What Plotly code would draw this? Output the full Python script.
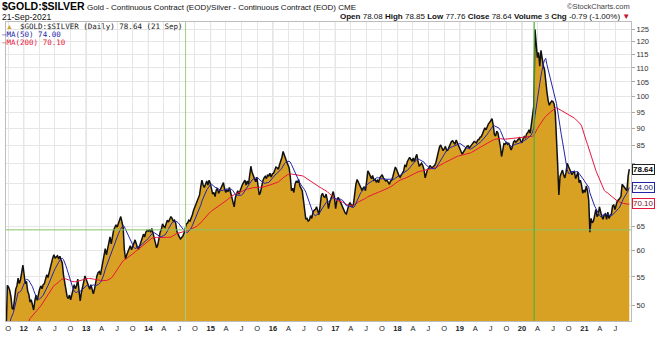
import numpy as np
import pandas as pd
import plotly.graph_objects as go

# ---------------------------------------------------------------------------
# Gold / silver ratio, weekly (Tuesday) closes, one list per calendar year.
# Dec-2010 .. Sep-2011 values only feed the moving averages.
# ---------------------------------------------------------------------------
r2010 = [47.0, 46.2, 47.5, 46.8]
r2011 = [48.0, 48.5, 48.9, 47.6,  45.8, 44.6, 43.0, 42.0,  41.3, 40.2, 40.6, 38.9, 38.2,
         37.6, 36.8, 33.8, 32.0,  37.0, 42.5, 42.0, 40.8, 41.5,  42.0, 42.8, 43.5, 44.0,
         42.0, 40.5, 40.2, 40.3,  41.2, 43.0, 45.5, 44.6, 44.0,  44.0, 44.6, 46.0, 53.5,
         53.2, 52.6, 51.5, 49.6,  49.4, 51.8, 52.8, 53.4, 54.8,  53.8, 54.5, 55.8, 57.2]
r2012 = [55.5, 53.8, 54.2, 52.5, 51.9,  50.6, 51.0, 50.2, 49.3,  50.8, 51.8, 50.9, 52.0,
         52.8, 53.4, 52.9, 53.6,  53.8, 54.6, 55.4, 54.9, 55.8,  56.5, 58.0, 58.6, 59.2,
         58.5, 58.8, 59.0, 58.4, 58.9,  58.2, 57.6, 55.4, 53.8,  52.4, 51.6, 51.2, 51.8,
         51.0, 51.9, 52.6, 53.6, 52.9,  53.4, 54.6, 52.4, 50.8,  52.2, 53.4, 54.3, 55.2]
r2013 = [54.6, 54.0, 53.2, 52.8, 53.6,  52.6, 52.0, 52.8, 54.2,  55.2, 55.8, 56.0, 55.4,
         56.6, 58.0, 59.8, 60.4, 59.2,  60.6, 61.6, 62.8, 61.4,  63.0, 64.2, 64.8, 65.4,
         64.9, 65.8, 66.4, 67.2, 66.0,  64.8, 60.2, 58.4, 59.2,  59.8, 60.6, 61.0, 60.2,
         60.8, 61.8, 62.2, 61.4, 60.6,  60.4, 61.0, 61.8, 62.6,  63.4, 62.8, 63.8, 64.2, 64.0]
r2014 = [64.4, 63.8, 64.6, 63.6,  62.4, 61.8, 60.6, 61.2,  62.6, 63.8, 64.4, 65.6,
         65.0, 64.8, 65.6, 66.4, 66.0,  66.6, 67.2, 66.8, 66.2,  66.4, 65.8, 64.0, 63.2,
         62.8, 62.4, 62.6, 63.0, 63.6,  64.8, 65.6, 65.8, 66.4,  66.2, 66.8, 67.6, 68.6, 69.4,
         70.2, 71.0, 71.6, 72.2,  74.2, 75.8, 74.6, 74.0,  74.8, 75.6, 74.6, 75.8, 75.0]
r2015 = [73.6, 72.4, 72.8, 71.8,  73.4, 73.8, 72.6, 73.2,  73.8, 74.6, 75.2, 73.6, 72.8,
         73.4, 73.0, 74.0, 72.8,  72.2, 70.4, 69.4, 71.6,  72.2, 73.2, 72.4, 73.0, 74.0,
         74.8, 75.4, 75.8, 74.6,  75.6, 74.8, 76.6, 79.4,  77.8, 77.0, 76.2, 75.4, 76.6,
         74.0, 72.2, 72.8, 74.4,  75.6, 76.4, 76.8, 76.2,  77.2, 76.8, 77.6, 76.6, 77.4]
r2016 = [77.6, 78.4, 79.2, 79.0,  78.6, 79.8, 80.6, 81.8,  83.4, 82.2, 81.2, 80.6, 79.8,
         79.0, 76.8, 73.2, 73.8,  72.8, 74.8, 75.6, 75.2, 76.0,  74.4, 73.6, 73.2, 71.0,
         68.0, 66.6, 66.8, 66.2,  66.4, 67.4, 66.8, 68.2, 68.6,  68.8, 69.4, 68.4, 67.6,
         69.6, 72.0, 72.6, 71.8,  71.6, 72.4, 71.0, 69.0, 70.4,  71.4, 72.2, 73.0, 71.6]
r2017 = [69.0, 70.8, 71.6, 71.2, 70.6,  69.6, 69.2, 68.6, 68.0,  67.8, 69.2, 69.8, 70.4,
         69.8, 69.4, 70.2, 72.6,  74.8, 76.0, 75.4, 74.6, 74.0,  73.4, 73.8, 74.2, 73.2,
         76.6, 78.2, 77.6, 76.8,  76.2, 77.0, 75.8, 76.0, 75.4,  75.8, 75.2, 76.4, 76.8,
         77.2, 76.4, 76.0, 75.6, 75.8,  75.4, 74.8, 75.6, 75.8,  76.8, 78.4, 79.2, 78.6]
r2018 = [77.6, 77.0, 76.6, 77.2, 78.0,  78.2, 79.8, 79.2, 80.6,  81.4, 81.8, 81.2, 80.8,
         81.6, 80.6, 81.8, 82.6,  80.8, 79.4, 79.8, 80.2, 79.6,  78.6, 76.4, 77.8, 78.6,
         78.8, 79.6, 79.2, 79.0, 79.4,  79.6, 80.4, 81.8, 84.0,  84.6, 85.2, 84.6, 83.6,
         84.2, 84.8, 83.6, 83.8, 84.6,  85.6, 86.2, 86.4, 86.0,  85.4, 86.6, 85.8, 84.8]
r2019 = [84.4, 83.6, 82.6, 83.2, 83.8,  84.2, 84.8, 85.0, 84.4,  84.8, 85.4, 85.8, 86.2,
         86.0, 85.8, 86.6, 86.8, 87.4,  87.6, 88.4, 89.4, 90.2,  89.6, 90.8, 91.4, 91.8,
         92.6, 93.0, 91.0, 88.2, 87.8,  89.2, 88.6, 87.0, 84.8,  82.0, 84.2, 85.6, 85.4,
         86.0, 85.4, 85.8, 84.8, 83.8,  84.6, 86.0, 86.4, 86.0,  86.4, 87.0, 87.2, 86.4, 85.8]
r2020 = [87.0, 87.6, 87.2, 88.4,  88.8, 89.6, 88.6, 91.6,  95.4, 97.0, 125.0, 117.2, 113.8,
         115.8, 110.6, 116.6, 112.4,  110.8, 109.4, 104.0, 101.6,  98.8, 97.2, 98.0, 98.6, 98.4,
         97.6, 94.8, 88.6, 79.8,  72.2, 76.8, 77.6, 78.4,  77.2, 76.4, 77.8, 80.2, 79.4,
         78.6, 77.8, 77.2, 77.8,  78.0, 76.2, 77.0, 77.8,  75.2, 75.8, 74.6, 72.6, 73.4]
r2021 = [72.8, 74.4, 73.2, 71.0,  63.8, 66.8, 65.8, 66.2,  68.0, 68.8, 67.2, 67.6, 69.4,
         68.0, 67.2, 66.6, 67.6,  67.8, 66.6, 68.2, 66.8,  67.4, 67.8, 69.6, 69.8, 68.8,
         70.0, 70.8, 71.0, 71.6,  71.8, 74.8, 74.4, 74.2, 73.6,  73.2, 76.76, 78.64]

year_blocks = [r2010, r2011, r2012, r2013, r2014, r2015, r2016, r2017, r2018, r2019, r2020, r2021]
block_starts = ['2010-12-07', '2011-01-04', '2012-01-03', '2013-01-01', '2014-01-07', '2015-01-06',
                '2016-01-05', '2017-01-03', '2018-01-02', '2019-01-01', '2020-01-07', '2021-01-05']

# Session header values
session_open, session_high, session_low = 78.08, 78.85, 77.76
session_volume = 3
session_chg, session_chg_pct = -0.79, -1.00
session_date_long, session_date_short = '21-Sep-2021', '21 Sep'

# Quarter tick labels (January shows the two-digit year)
quarter_letters = {1: None, 4: 'A', 7: 'J', 10: 'O'}
y_ticks = [50, 55, 60, 65, 70, 75, 80, 85, 90, 95, 100, 105, 110, 115, 120, 125]
# tick labels sitting under the last-value tags are left blank
y_hidden = [70, 75, 80]

# Trader-drawn reference lines
ref_level = 64.3
ref_dates = ['2014-08-07', '2020-03-12']

# ---------------------------------------------------------------------------
dates, closes = [], []
for start, block in zip(block_starts, year_blocks):
    dates.extend(pd.date_range(start, periods=len(block), freq='7D'))
    closes.extend(block)
ratio = pd.Series(closes, index=pd.DatetimeIndex(dates))
ma50 = ratio.rolling(10).mean()    # ~50 trading days
ma200 = ratio.rolling(40).mean()   # ~200 trading days

last_close = ratio.iloc[-1]
ma50_last = ma50.iloc[-1]
ma200_last = ma200.iloc[-1]

FILL = '#D9A123'
BLUE = '#2424A8'
RED = '#E8163C'
SANS = 'Liberation Sans'
MONO = 'DejaVu Sans Mono'

W, H = 660, 341
L, R, T, B = 6, 29, 22, 20
PW, PH = W - L - R, H - T - B


def px(x):
    return (x - L) / PW


def py(y):
    return (H - B - y) / PH


fig = go.Figure()
fig.add_trace(go.Scatter(x=ratio.index, y=ratio.values, mode='lines',
                         line=dict(color='#111111', width=1.5),
                         fill='tozeroy', fillcolor=FILL, hoverinfo='skip'))
fig.add_trace(go.Scatter(x=ma200.index, y=ma200.values, mode='lines',
                         line=dict(color=RED, width=1), hoverinfo='skip'))
fig.add_trace(go.Scatter(x=ma50.index, y=ma50.values, mode='lines',
                         line=dict(color=BLUE, width=1), hoverinfo='skip'))

tick_dates = pd.date_range('2011-10-01', '2021-07-01', freq='QS')
tick_text = [f'<b>{d.year % 100:02d}</b>' if d.month == 1 else quarter_letters[d.month]
             for d in tick_dates]

shapes = []
for d in pd.date_range('2012-01-01', '2021-01-01', freq='YS'):
    shapes.append(dict(type='line', xref='x', yref='paper', x0=d, x1=d, y0=0, y1=1,
                       line=dict(color='#cdcdcd', width=1), layer='between'))
shapes.append(dict(type='line', xref='paper', yref='y', x0=0, x1=1, y0=ref_level, y1=ref_level,
                   line=dict(color='#86C46A', width=1)))
shapes.append(dict(type='line', xref='x', yref='paper', x0=ref_dates[0], x1=ref_dates[0], y0=0, y1=1,
                   line=dict(color='#9BD184', width=1)))
shapes.append(dict(type='line', xref='x', yref='paper', x0=ref_dates[1], x1=ref_dates[1], y0=0, y1=1,
                   line=dict(color='#55B043', width=1.3)))

ann = []


def text(x, y, s, size=8, color='#111111', family=SANS, anchor='left'):
    ann.append(dict(x=px(x), y=py(y), xref='paper', yref='paper', text=s, showarrow=False,
                    xanchor=anchor, yanchor='middle', font=dict(family=family, size=size, color=color)))


text(0, 6.5, '<b>&#36;GOLD:&#36;SILVER</b>', size=10.5, color='#000000')
text(85, 7, 'Gold - Continuous Contract (EOD)/Silver - Continuous Contract (EOD) CME', size=8)
text(0, 16.7, session_date_long, size=8.5)
text(632, 6.7, '©StockCharts.com', size=7.5, color='#444444', anchor='right')
ohlc = (f'<b>Open</b> {session_open:.2f} <b>High</b> {session_high:.2f} <b>Low</b> {session_low:.2f} '
        f'<b>Close</b> {last_close:.2f} <b>Volume</b> {session_volume} '
        f'<b>Chg</b> {session_chg:.2f} ({session_chg_pct:.2f}%) <span style="color:#C8102E">▼</span>')
text(632, 16.5, ohlc, size=8, anchor='right')

text(4.2, 26.3, '▲', size=7, color=FILL)
text(18, 26.3, f'&#36;GOLD:&#36;SILVER (Daily) {last_close:.2f} ({session_date_short})',
     size=7.5, color='#222222', family=MONO)
text(0.3, 34.3, f'—MA(50) {ma50_last:.2f}', size=7.5, color=BLUE, family=MONO)
text(0.3, 42.7, f'—MA(200) {ma200_last:.2f}', size=7.5, color=RED, family=MONO)

for val, border, fcolor, bold in [(last_close, '#222222', '#000000', True),
                                  (ma50_last, BLUE, '#1a1a70', False),
                                  (ma200_last, RED, '#7a1020', False)]:
    label = f'{val:.2f}'
    ann.append(dict(x=px(632), y=np.log10(val), xref='paper', yref='y',
                    text=f'<b>{label}</b>' if bold else label, showarrow=False,
                    xanchor='left', yanchor='middle', bgcolor='white',
                    bordercolor=border, borderwidth=1, borderpad=0,
                    font=dict(family=SANS, size=8, color=fcolor)))

fig.update_layout(
    width=W, height=H,
    margin=dict(l=L, r=R, t=T, b=B, pad=0),
    paper_bgcolor='white', plot_bgcolor='white',
    showlegend=False, hovermode=False,
    font=dict(family=SANS, size=8, color='#222222'),
    shapes=shapes, annotations=ann,
    xaxis=dict(type='date', range=['2011-09-19', '2021-10-01'],
               tickmode='array', tickvals=tick_dates, ticktext=tick_text,
               tickfont=dict(family=SANS, size=7.5, color='#222222'),
               showgrid=True, gridcolor='#e6e6e6', gridwidth=1,
               ticks='', showline=True, linecolor='#bdbdbd', linewidth=1, mirror=True,
               zeroline=False, fixedrange=True),
    yaxis=dict(type='log', side='right',
               range=[np.log10(47.53), np.log10(128.1)],
               tickmode='array', tickvals=y_ticks,
               ticktext=['' if v in y_hidden else str(v) for v in y_ticks],
               tickfont=dict(family=SANS, size=7.5, color='#333333'),
               showgrid=True, gridcolor='#e6e6e6', gridwidth=1,
               ticks='outside', ticklen=3, tickcolor='#aaaaaa',
               showline=True, linecolor='#bdbdbd', linewidth=1, mirror=True,
               zeroline=False, fixedrange=True),
)

fig.write_html('out.html')
